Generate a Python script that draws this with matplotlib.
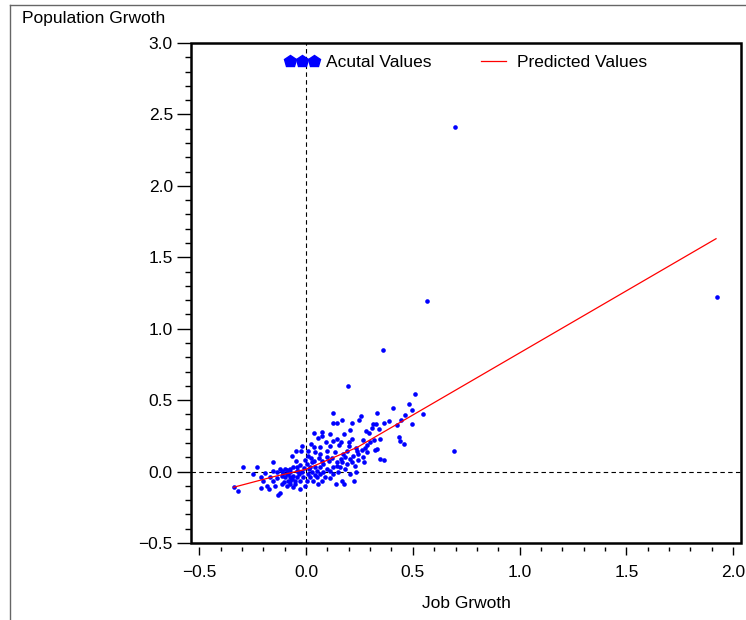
import matplotlib
matplotlib.use("Agg")
import matplotlib.pyplot as plt
from matplotlib.lines import Line2D
from matplotlib.patches import Rectangle
from matplotlib.ticker import MultipleLocator, FuncFormatter

plt.rcParams['font.family'] = ['Liberation Sans', 'DejaVu Sans']

# Actual values (job growth, population growth)
job_growth = [
    0.195, 0.509, 0.480, 0.409, 0.495, 0.548, 0.128, 0.258, 0.461, 0.333,
    0.167, 0.125, 0.147, 0.217, 0.247, 0.312, 0.328, 0.365, 0.390, 0.445,
    0.425, 0.498, 0.308, 0.340, 0.279, 0.206, 0.039, 0.075, 0.114, 0.178,
    0.297, 0.075, 0.055, 0.094, 0.125, 0.145, 0.162, 0.201, 0.217, 0.267,
    0.320, 0.346, 0.437, 0.457, 0.440, -0.020, 0.023, -0.047, -0.025, 0.008,
    0.039, 0.066, 0.112, 0.155, 0.200, 0.233, 0.261, 0.284, 0.323, 0.331,
    -0.066, 0.011, 0.044, 0.067, 0.097, 0.137, 0.175, 0.191, 0.245, 0.284,
    0.265, 0.346, 0.365, -0.155, -0.294, -0.231, -0.250, -0.192, -0.153, -0.114,
    -0.098, -0.091, -0.045, -0.044, -0.005, 0.022, 0.037, 0.059, 0.075, 0.081,
    0.105, 0.120, 0.144, 0.162, 0.184, 0.206, 0.213, 0.229, 0.245, 0.269,
    0.233, 0.183, 0.159, 0.128, 0.097, 0.066, 0.042, 0.019, -0.012, -0.028,
    -0.059, -0.075, -0.212, -0.203, -0.169, -0.153, -0.134, -0.114, -0.098, -0.087,
    -0.075, -0.059, -0.044, -0.031, -0.016, -0.028, -0.052, -0.075, -0.091, -0.114,
    -0.145, -0.184, -0.176, -0.211, -0.122, -0.130, -0.028, -0.005, 0.031, 0.050,
    0.073, 0.089, 0.112, 0.141, 0.167, 0.178, 0.058, 0.011, 0.027, -0.336,
    -0.317, 0.066, 0.128, 0.151, 0.206, 0.226, -0.122, -0.134, -0.106,
    -0.075, -0.083, -0.067, -0.052, -0.036, -0.020, 0.003, 0.016, 0.027, 0.050,
    0.081, 0.097, 0.112, 0.144, 0.167, 0.190, 0.222, 0.237, 0.276, 0.300,
    0.003, 0.019, 0.042, -0.075, -0.091, -0.103, -0.059, -0.044,
    0.698, 0.567, 1.925, 0.361, 0.693,
]
pop_growth = [
    0.598, 0.540, 0.470, 0.444, 0.432, 0.402, 0.409, 0.388, 0.397, 0.407,
    0.358, 0.341, 0.339, 0.341, 0.362, 0.334, 0.330, 0.341, 0.351, 0.358,
    0.323, 0.330, 0.306, 0.295, 0.285, 0.288, 0.271, 0.278, 0.264, 0.264,
    0.269, 0.248, 0.234, 0.210, 0.217, 0.229, 0.210, 0.210, 0.229, 0.224,
    0.224, 0.227, 0.241, 0.194, 0.217, 0.182, 0.194, 0.143, 0.147, 0.147,
    0.171, 0.175, 0.182, 0.189, 0.182, 0.166, 0.154, 0.189, 0.154, 0.159,
    0.110, 0.112, 0.136, 0.124, 0.147, 0.136, 0.124, 0.147, 0.124, 0.136,
    0.101, 0.089, 0.084, 0.065, 0.030, 0.030, -0.016, -0.007, 0.002, 0.007,
    0.016, 0.009, 0.072, 0.035, 0.082, 0.096, 0.077, 0.094, 0.077, 0.054,
    0.077, 0.096, 0.065, 0.091, 0.105, 0.089, 0.065, 0.042, 0.082, 0.065,
    -0.005, 0.019, 0.030, 0.030, 0.019, 0.030, 0.030, 0.035, 0.026, 0.049,
    0.030, 0.019, -0.040, -0.063, -0.040, -0.063, -0.044, -0.028, -0.040, -0.063,
    -0.040, -0.028, -0.040, -0.016, -0.040, -0.068, -0.086, -0.086, -0.098, -0.086,
    -0.098, -0.098, -0.122, -0.112, -0.152, -0.161, -0.122, -0.098, -0.063, -0.040,
    -0.063, -0.035, -0.044, -0.086, -0.063, -0.086, -0.086, -0.016, -0.005, -0.110,
    -0.133, -0.016, -0.016, -0.005, -0.016, -0.068, 0.019, 0.000, -0.012,
    -0.005, -0.016, -0.051, -0.063, 0.007, -0.005, 0.054, 0.019, 0.065, 0.007,
    -0.005, 0.101, 0.007, 0.042, 0.065, 0.054, 0.112, 0.147, 0.166, 0.206,
    -0.063, -0.040, -0.021, -0.063, -0.016, -0.075, -0.105, 0.007,
    2.412, 1.192, 1.220, 0.849, 0.147,
]

# Predicted values curve
pred_x = [-0.34, -0.15, 0.0, 0.10, 0.24, 1.92]
pred_y = [-0.11, -0.035, 0.016, 0.08, 0.17, 1.63]

x_label = "Job Grwoth"
y_label = "Population Grwoth"
legend_labels = ["Acutal Values", "Predicted Values"]

FS = 12.5

fig = plt.figure(figsize=(7.46, 6.20), dpi=100)
ax = fig.add_axes([191/746, 1-543/620, (741-191)/746, (543-43)/620])

ax.axvline(0, color='black', lw=0.8, ls=(0, (4, 3)), zorder=1)
ax.axhline(0, color='black', lw=0.8, ls=(0, (4, 3)), zorder=1)
ax.scatter(job_growth, pop_growth, s=11, color='blue', marker='o', linewidths=0, zorder=3)
ax.plot(pred_x, pred_y, color='red', lw=0.9, zorder=4)

ax.set_xlim(-0.539, 2.037)
ax.set_ylim(-0.5, 3.0)

fmt = FuncFormatter(lambda v, p: f"{v:.1f}".replace('-', '\u2212'))
ax.xaxis.set_major_locator(MultipleLocator(0.5))
ax.xaxis.set_minor_locator(MultipleLocator(0.1))
ax.yaxis.set_major_locator(MultipleLocator(0.5))
ax.yaxis.set_minor_locator(MultipleLocator(0.1))
ax.xaxis.set_major_formatter(fmt)
ax.yaxis.set_major_formatter(fmt)

ax.tick_params(axis='x', which='major', direction='out', length=6, width=1, pad=7, labelsize=FS)
ax.tick_params(axis='x', which='minor', direction='out', length=3, width=1)
ax.tick_params(axis='y', which='major', direction='out', length=10, width=1, pad=3, labelsize=FS)
ax.tick_params(axis='y', which='minor', direction='out', length=4, width=1)

ax.spines['bottom'].set_position(('outward', 3))
for sp in ax.spines.values():
    sp.set_visible(False)
ax.add_patch(Rectangle((0, 0), 1, 1, transform=ax.transAxes, fill=False,
                       lw=1.8, edgecolor='black', clip_on=False, zorder=6))

ax.set_xlabel(x_label, fontsize=FS, labelpad=11)
fig.text(22/746, 1-18/620, y_label, fontsize=FS, ha='left', va='center')

handles = [Line2D([], [], marker='p', color='blue', ls='none', markersize=9),
           Line2D([], [], color='red', lw=0.9)]
ax.legend(handles, legend_labels, loc='upper center', ncol=2, frameon=False,
          numpoints=3, handlelength=2.0, handletextpad=0.35, columnspacing=2.6,
          fontsize=FS, borderaxespad=0.3, bbox_to_anchor=(0.5, 1.0))

# outer frame
fig.add_artist(Line2D([10/746, 1], [1-5/620, 1-5/620], color='#666666', lw=1, transform=fig.transFigure))
fig.add_artist(Line2D([10/746, 10/746], [0, 1-5/620], color='#666666', lw=1, transform=fig.transFigure))

fig.savefig('out.png', dpi=100)
